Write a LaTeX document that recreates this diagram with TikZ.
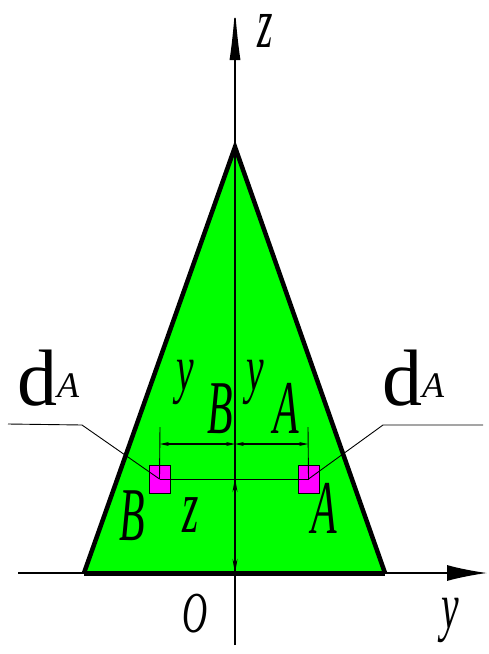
\documentclass[tikz,border=0pt]{standalone}
\usepackage{fontspec}
\setmainfont{Liberation Serif}
\usetikzlibrary{arrows.meta}

\definecolor{areafill}{RGB}{0,255,0}
\definecolor{elemfill}{RGB}{255,0,255}
\newcommand{\slim}[1]{\scalebox{0.6}[1]{\itshape #1}}
\newcommand{\slimcap}[1]{\scalebox{0.55}[1]{\itshape #1}}
\newcommand{\dAtext}{d\raisebox{8pt}{\fontsize{36}{36}\selectfont\itshape A}}

\begin{document}
\begin{tikzpicture}[x=1pt,y=-1pt,
  lbl/.style={inner sep=0pt,anchor=base west,font=\fontsize{66}{66}\selectfont},
  caplbl/.style={inner sep=0pt,anchor=base west,font=\fontsize{76}{76}\selectfont},
  big/.style={inner sep=0pt,anchor=base west,font=\fontsize{80}{80}\selectfont},
  sq/.style={draw,fill=elemfill,minimum width=21pt,minimum height=28pt,inner sep=0pt,line width=0.8pt},
  axis/.style={line width=1.4pt},
  lead/.style={line width=0.9pt},
  dim/.style={line width=1.1pt,{Stealth[length=9pt,width=4pt]}-{Stealth[length=9pt,width=4pt]}}]
 \useasboundingbox (0,0) rectangle (488,654);
 % triangle and axes
 \coordinate (apex) at (235,147);
 \coordinate (bl) at (84,573);
 \coordinate (br) at (385,573);
 \coordinate (o) at (235,573);
 \coordinate (zt) at (235,8);
 \coordinate (zb) at (235,645);
 \coordinate (yl) at (18,573);
 \coordinate (yr) at (487,573);
 \fill[areafill] (bl) -- (apex) -- (br) -- cycle;
 \draw[axis,-{Latex[length=52pt,width=11pt]}] (zb) -- (zt);
 \draw[axis,-{Latex[length=40pt,width=16pt]}] (yl) -- (yr);
 \draw[line width=4.5pt] (bl) -- (apex) -- (br);
 \draw[line width=5pt] (bl) -- (br);
 % area elements
 \node[sq] (sqB) at (159.5,479) {};
 \node[sq] (sqA) at (308.5,479) {};
 \draw[lead] (sqB.center) -- (sqA.center);
 \coordinate (eB) at (160,427);
 \coordinate (eA) at (308,427);
 \coordinate (dB) at (160,444);
 \coordinate (dm) at (235,444);
 \coordinate (dA) at (308,444);
 \draw[lead] (sqB.center) -- (eB);
 \draw[lead] (sqA.center) -- (eA);
 \draw[dim] (dB) -- (dm);
 \draw[dim] (dm) -- (dA);
 \coordinate (zd) at (235,478);
 \draw[dim,{Stealth[length=14pt,width=5pt]}-{Stealth[length=14pt,width=5pt]}] (zd) -- (o);
 % leaders
 \coordinate (kB) at (82,425);
 \coordinate (tB) at (8,424);
 \coordinate (kA) at (383,425);
 \coordinate (tA) at (483,425);
 \draw[lead] (sqB.center) -- (kB) -- (tB);
 \draw[lead] (sqA.center) -- (kA) -- (tA);
 % labels
 \node[big] (dAl) at (17,405) {\dAtext};
 \node[big] (dAr) at (382,405) {\dAtext};
 \node[lbl] (yB) at (176,390) {\slim{y}};
 \node[caplbl] (sB) at (207,433) {\slimcap{B}};
 \node[lbl] (yA) at (246,390) {\slim{y}};
 \node[caplbl] (sA) at (273,433) {\slimcap{A}};
 \node[caplbl] (pB) at (119,540) {\slimcap{B}};
 \node[caplbl] (pz) at (182,532) {\slimcap{z}};
 \node[caplbl] (pA) at (311,533) {\slimcap{A}};
 \node[lbl,font=\fontsize{58}{58}\selectfont] (lo) at (182,632) {\slim{O}};
 \node[lbl] (ly) at (441,628) {\slim{y}};
 \node[lbl,font=\fontsize{72}{72}\selectfont] (lz) at (257,47) {\slimcap{z}};
\end{tikzpicture}
\end{document}
